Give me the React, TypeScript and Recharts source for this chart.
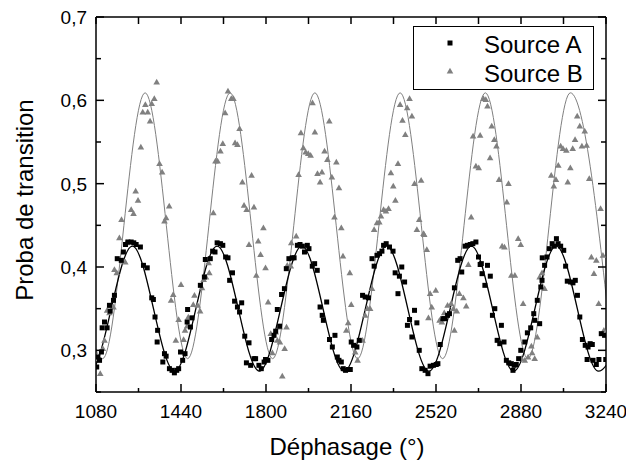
import { ComposedChart, Line, Scatter, XAxis, YAxis, Legend, Label } from "recharts"

const FONT = "'Liberation Sans', Arial, sans-serif"

const xMajorTicks = [1080, 1440, 1800, 2160, 2520, 2880, 3240]
const xMinorTicks = [1260, 1620, 1980, 2340, 2700, 3060]
const yMajorTicks = [0.3, 0.4, 0.5, 0.6, 0.7]
const yMinorTicks = [0.25, 0.35, 0.45, 0.55, 0.65]

// measured points: [phase (deg), transition probability]
const sourceA: [number, number][] = [
  [1083, 0.28], [1088, 0.292], [1095, 0.288], [1103, 0.298], [1106, 0.327], [1116, 0.334], [1127, 0.327],
  [1137, 0.354], [1140, 0.347], [1154, 0.36], [1158, 0.366], [1170, 0.41], [1187, 0.408], [1196, 0.418],
  [1205, 0.427], [1215, 0.43], [1229, 0.43], [1240, 0.429], [1250, 0.427], [1268, 0.424], [1281, 0.402],
  [1297, 0.399], [1316, 0.363], [1323, 0.361], [1330, 0.34], [1341, 0.324], [1339, 0.31], [1363, 0.286],
  [1370, 0.296], [1377, 0.293], [1391, 0.278], [1402, 0.276], [1412, 0.273], [1422, 0.276], [1430, 0.278],
  [1438, 0.298], [1447, 0.288], [1457, 0.296], [1466, 0.334], [1468, 0.349], [1480, 0.328], [1487, 0.339],
  [1522, 0.378], [1539, 0.388], [1543, 0.409], [1564, 0.41], [1574, 0.419], [1584, 0.418], [1593, 0.429],
  [1607, 0.428], [1617, 0.426], [1629, 0.412], [1639, 0.411], [1646, 0.384], [1658, 0.393], [1667, 0.359],
  [1679, 0.352], [1688, 0.346], [1697, 0.357], [1710, 0.317], [1728, 0.309], [1717, 0.285], [1735, 0.282],
  [1749, 0.29], [1756, 0.29], [1770, 0.282], [1780, 0.278], [1792, 0.286], [1798, 0.289], [1808, 0.288],
  [1824, 0.313], [1834, 0.318], [1841, 0.323], [1848, 0.349], [1858, 0.329], [1866, 0.367], [1878, 0.374],
  [1886, 0.398], [1897, 0.41], [1911, 0.411], [1919, 0.411], [1933, 0.426], [1944, 0.427], [1954, 0.425],
  [1963, 0.418], [1975, 0.426], [1982, 0.422], [1996, 0.401], [2006, 0.404], [2017, 0.396], [2029, 0.352],
  [2038, 0.342], [2043, 0.336], [2057, 0.358], [2069, 0.313], [2081, 0.304], [2092, 0.318], [2102, 0.292],
  [2109, 0.288], [2119, 0.286], [2127, 0.278], [2137, 0.276], [2148, 0.277], [2157, 0.277], [2161, 0.31],
  [2171, 0.306], [2185, 0.304], [2195, 0.312], [2209, 0.366], [2220, 0.364], [2234, 0.363], [2249, 0.41],
  [2258, 0.401], [2270, 0.414], [2281, 0.416], [2291, 0.419], [2298, 0.426], [2309, 0.428], [2323, 0.424],
  [2338, 0.419], [2347, 0.393], [2359, 0.368], [2365, 0.389], [2375, 0.4], [2387, 0.382], [2399, 0.33],
  [2408, 0.337], [2418, 0.316], [2429, 0.348], [2439, 0.333], [2449, 0.3], [2460, 0.278], [2474, 0.276],
  [2486, 0.272], [2495, 0.281], [2509, 0.282], [2521, 0.283], [2528, 0.284], [2538, 0.307], [2549, 0.338],
  [2556, 0.338], [2569, 0.342], [2577, 0.344], [2598, 0.375], [2612, 0.408], [2622, 0.41], [2629, 0.394],
  [2643, 0.425], [2653, 0.426], [2665, 0.427], [2676, 0.428], [2689, 0.43], [2700, 0.412], [2707, 0.403],
  [2712, 0.404], [2715, 0.392], [2727, 0.378], [2738, 0.402], [2750, 0.389], [2759, 0.342], [2769, 0.35],
  [2779, 0.312], [2790, 0.308], [2797, 0.33], [2808, 0.31], [2818, 0.288], [2828, 0.285], [2839, 0.284],
  [2846, 0.276], [2851, 0.282], [2860, 0.283], [2870, 0.29], [2879, 0.3], [2896, 0.31], [2907, 0.321],
  [2921, 0.327], [2934, 0.344], [2938, 0.336], [2949, 0.36], [2959, 0.332], [2964, 0.376], [2969, 0.384],
  [2970, 0.411], [2980, 0.402], [2990, 0.412], [3000, 0.422], [3012, 0.428], [3021, 0.425], [3030, 0.434],
  [3037, 0.428], [3048, 0.425], [3061, 0.42], [3069, 0.401], [3076, 0.383], [3090, 0.382], [3100, 0.381],
  [3110, 0.384], [3119, 0.366], [3129, 0.34], [3140, 0.313], [3152, 0.306], [3164, 0.304], [3173, 0.308],
  [3182, 0.307], [3160, 0.289], [3185, 0.288], [3199, 0.283], [3210, 0.289], [3220, 0.32], [3234, 0.318],
  [3239, 0.289],
]

const sourceB: [number, number][] = [
  [1090, 0.29], [1098, 0.272], [1109, 0.302], [1116, 0.312], [1127, 0.348], [1137, 0.345], [1144, 0.354],
  [1154, 0.352], [1158, 0.397], [1168, 0.393], [1179, 0.435], [1188, 0.457], [1193, 0.407], [1204, 0.406],
  [1209, 0.429], [1229, 0.469], [1239, 0.464], [1248, 0.491], [1258, 0.48], [1270, 0.544], [1278, 0.586],
  [1289, 0.595], [1299, 0.586], [1309, 0.575], [1316, 0.596], [1327, 0.602], [1337, 0.622], [1349, 0.524],
  [1360, 0.514], [1370, 0.455], [1377, 0.459], [1390, 0.473], [1398, 0.36], [1407, 0.367], [1418, 0.312],
  [1430, 0.337], [1440, 0.379], [1451, 0.313], [1457, 0.324], [1466, 0.329], [1471, 0.34], [1492, 0.355],
  [1497, 0.366], [1511, 0.354], [1521, 0.347], [1529, 0.375], [1536, 0.385], [1546, 0.388], [1557, 0.405],
  [1560, 0.393], [1577, 0.465], [1586, 0.527], [1595, 0.527], [1607, 0.539], [1617, 0.548], [1627, 0.585],
  [1639, 0.611], [1653, 0.602], [1662, 0.602], [1669, 0.549], [1679, 0.547], [1688, 0.566], [1700, 0.502],
  [1707, 0.474], [1718, 0.469], [1728, 0.427], [1739, 0.51], [1749, 0.472], [1759, 0.39], [1767, 0.431],
  [1777, 0.415], [1789, 0.447], [1798, 0.399], [1809, 0.358], [1820, 0.32], [1827, 0.297], [1841, 0.322],
  [1848, 0.312], [1858, 0.328], [1859, 0.31], [1869, 0.269], [1879, 0.302], [1887, 0.328], [1890, 0.402],
  [1905, 0.401], [1907, 0.429], [1928, 0.437], [1938, 0.511], [1948, 0.561], [1958, 0.543], [1968, 0.538],
  [1979, 0.536], [1989, 0.534], [1997, 0.597], [2007, 0.562], [2018, 0.512], [2029, 0.502], [2037, 0.514],
  [2048, 0.539], [2060, 0.529], [2068, 0.575], [2079, 0.508], [2090, 0.46], [2098, 0.526], [2109, 0.495],
  [2119, 0.447], [2126, 0.413], [2140, 0.324], [2148, 0.333], [2155, 0.393], [2161, 0.355], [2178, 0.298],
  [2188, 0.288], [2209, 0.312], [2220, 0.342], [2230, 0.35], [2241, 0.35], [2249, 0.374], [2258, 0.445],
  [2270, 0.453], [2280, 0.454], [2287, 0.461], [2298, 0.469], [2308, 0.467], [2319, 0.47], [2329, 0.513],
  [2339, 0.497], [2348, 0.48], [2359, 0.524], [2368, 0.595], [2378, 0.576], [2390, 0.559], [2398, 0.591],
  [2408, 0.602], [2418, 0.581], [2429, 0.5], [2439, 0.445], [2449, 0.457], [2457, 0.504], [2467, 0.44],
  [2470, 0.439], [2481, 0.421], [2488, 0.339], [2495, 0.368], [2502, 0.352], [2519, 0.372], [2535, 0.336],
  [2545, 0.334], [2555, 0.345], [2569, 0.354], [2584, 0.356], [2594, 0.35], [2598, 0.324], [2608, 0.347],
  [2619, 0.368], [2636, 0.363], [2648, 0.353], [2657, 0.403], [2669, 0.46], [2677, 0.557], [2689, 0.521],
  [2701, 0.519], [2707, 0.558], [2721, 0.602], [2731, 0.601], [2738, 0.593], [2749, 0.531], [2756, 0.569],
  [2767, 0.553], [2776, 0.545], [2787, 0.505], [2800, 0.425], [2810, 0.424], [2820, 0.478], [2827, 0.5],
  [2839, 0.39], [2854, 0.39], [2868, 0.434], [2879, 0.427], [2882, 0.29], [2889, 0.356], [2896, 0.288],
  [2910, 0.292], [2924, 0.305], [2927, 0.297], [2938, 0.29], [2949, 0.316], [2959, 0.388], [2969, 0.393],
  [2980, 0.374], [3008, 0.51], [3019, 0.497], [3028, 0.505], [3038, 0.522], [3048, 0.545], [3058, 0.542],
  [3072, 0.54], [3078, 0.502], [3089, 0.519], [3099, 0.542], [3109, 0.553], [3118, 0.581], [3129, 0.569],
  [3138, 0.545], [3150, 0.563], [3158, 0.546], [3169, 0.506], [3178, 0.412], [3189, 0.392], [3199, 0.408],
  [3209, 0.356], [3217, 0.47], [3227, 0.414], [3231, 0.324],
]

// fitted curves, read at their maxima and minima
const fitAPhase = [875, 1055, 1234, 1413, 1593, 1772, 1952, 2131, 2311, 2490, 2670, 2849, 3029, 3208, 3388]
const fitAProb = [0.425, 0.275, 0.425, 0.275, 0.425, 0.275, 0.425, 0.275, 0.425, 0.275, 0.425, 0.275, 0.425, 0.275, 0.425]
const fitBPhase = [928, 1108, 1288, 1468, 1648, 1828, 2007, 2188, 2368, 2548, 2729, 2909, 3089, 3269]
const fitBProb = [0.609, 0.29, 0.609, 0.29, 0.609, 0.29, 0.609, 0.29, 0.609, 0.29, 0.609, 0.29, 0.609, 0.29]

const pointsA = sourceA.map(([x, y]) => ({ x, y }))
const pointsB = sourceB.map(([x, y]) => ({ x, y }))
const fitA = fitAPhase.map((x, i) => ({ x, y: fitAProb[i] }))
const fitB = fitBPhase.map((x, i) => ({ x, y: fitBProb[i] }))

const xTicks = [...xMajorTicks, ...xMinorTicks].sort((a, b) => a - b)
const yTicks = [...yMajorTicks, ...yMinorTicks].sort((a, b) => a - b)

const GRAY = "#808080"

function Square(props: any) {
  const { cx, cy } = props
  return <rect x={cx - 2.5} y={cy - 2.5} width={5} height={5} fill="#000" />
}

function Triangle(props: any) {
  const { cx, cy } = props
  return <polygon points={`${cx},${cy - 3.3} ${cx + 3.3},${cy + 2.4} ${cx - 3.3},${cy + 2.4}`} fill={GRAY} />
}

function BottomTick({ x, y, payload }: any) {
  const major = xMajorTicks.includes(payload.value)
  return (
    <g>
      <line x1={x} x2={x} y1={y} y2={y - (major ? 8 : 4)} stroke="#000" strokeWidth={1.5} />
      {major && (
        <text x={x} y={y + 26} textAnchor="middle" fontSize={19} fontFamily={FONT} fill="#000">
          {payload.value}
        </text>
      )}
    </g>
  )
}

function TopTick({ x, y }: any) {
  return <line x1={x} x2={x} y1={y} y2={y + 7} stroke="#000" strokeWidth={1.5} />
}

function LeftTick({ x, y, payload }: any) {
  const major = yMajorTicks.includes(payload.value)
  return (
    <g>
      <line x1={x} x2={x + (major ? 8 : 5)} y1={y} y2={y} stroke="#000" strokeWidth={1.5} />
      {major && (
        <text x={x - 9} y={y + 7} textAnchor="end" fontSize={19} fontFamily={FONT} fill="#000">
          {payload.value.toFixed(1).replace(".", ",")}
        </text>
      )}
    </g>
  )
}

function RightTick({ x, y, payload }: any) {
  const major = yMajorTicks.includes(payload.value)
  return <line x1={x} x2={x - (major ? 8 : 5)} y1={y} y2={y} stroke="#000" strokeWidth={1.5} />
}

function XTitle({ viewBox }: any) {
  return (
    <text x={viewBox.x + viewBox.width / 2 - 4} y={viewBox.y + 63} textAnchor="middle" fontSize={24} fontFamily={FONT} fill="#000">
      Déphasage (°)
    </text>
  )
}

function YTitle() {
  return (
    <text x={33} y={200} transform="rotate(-90 33 200)" textAnchor="middle" fontSize={24} fontFamily={FONT} fill="#000">
      Proba de transition
    </text>
  )
}

function LegendBox() {
  return (
    <svg width={181} height={64} style={{ display: "block" }}>
      <rect x={0.5} y={0.5} width={180} height={63} fill="#fff" stroke="#000" strokeWidth={1} />
      <Square cx={37} cy={17} />
      <text x={71} y={27} fontSize={24} fontFamily={FONT} fill="#000">Source A</text>
      <Triangle cx={37} cy={45} />
      <text x={71} y={56} fontSize={24} fontFamily={FONT} fill="#000">Source B</text>
    </svg>
  )
}

export default function App() {
  const axisLine = { stroke: "#000", strokeWidth: 1.5 }
  return (
    <div style={{ position: "absolute", left: 0, top: 0, background: "#fff" }}>
      <ComposedChart width={626} height={464} margin={{ top: 16, right: 19, bottom: 0, left: 0 }}>
        <XAxis
          type="number"
          dataKey="x"
          domain={[1080, 3240]}
          allowDataOverflow
          ticks={xTicks}
          interval={0}
          tickLine={false}
          tickSize={0}
          tickMargin={0}
          tick={<BottomTick />}
          axisLine={axisLine}
          height={72}
        >
          <Label content={<XTitle />} />
        </XAxis>
        <XAxis
          xAxisId="top"
          orientation="top"
          type="number"
          dataKey="x"
          domain={[1080, 3240]}
          allowDataOverflow
          ticks={xTicks}
          interval={0}
          tickLine={false}
          tickSize={0}
          tickMargin={0}
          tick={<TopTick />}
          axisLine={axisLine}
          height={1}
        />
        <YAxis
          type="number"
          dataKey="y"
          domain={[0.25, 0.7]}
          allowDataOverflow
          ticks={yTicks}
          interval={0}
          tickLine={false}
          tickSize={0}
          tickMargin={0}
          tick={<LeftTick />}
          axisLine={axisLine}
          width={96}
        >
          <Label content={<YTitle />} />
        </YAxis>
        <YAxis
          yAxisId="right"
          orientation="right"
          type="number"
          dataKey="y"
          domain={[0.25, 0.7]}
          allowDataOverflow
          ticks={yTicks}
          interval={0}
          tickLine={false}
          tickSize={0}
          tickMargin={0}
          tick={<RightTick />}
          axisLine={axisLine}
          width={1}
        />
        <Legend
          content={<LegendBox />}
          layout="vertical"
          align="center"
          verticalAlign="middle"
          wrapperStyle={{ left: 413, top: 26, width: 181, height: 64 }}
        />
        {/* Source B sits on the top/right axes (same scales) */}
        <Line
          xAxisId="top"
          yAxisId="right"
          data={fitB}
          dataKey="y"
          type="monotoneX"
          stroke={GRAY}
          strokeWidth={1}
          dot={false}
          activeDot={false}
          legendType="none"
          isAnimationActive={false}
        />
        <Line
          data={fitA}
          dataKey="y"
          type="monotoneX"
          stroke="#000"
          strokeWidth={1.3}
          dot={false}
          activeDot={false}
          legendType="none"
          isAnimationActive={false}
        />
        <Scatter
          xAxisId="top"
          yAxisId="right"
          data={pointsB}
          dataKey="y"
          shape={<Triangle />}
          legendType="none"
          isAnimationActive={false}
        />
        <Scatter data={pointsA} dataKey="y" shape={<Square />} legendType="none" isAnimationActive={false} />
      </ComposedChart>
    </div>
  )
}
